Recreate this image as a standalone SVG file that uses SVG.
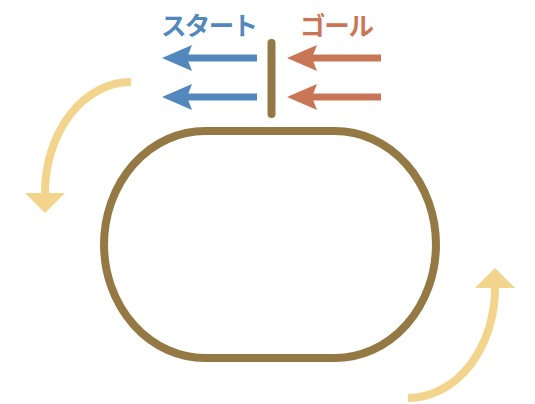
<svg xmlns="http://www.w3.org/2000/svg" width="535" height="404" viewBox="0 0 535 404">
<style>
.lbl{font-family:"Noto Sans CJK JP","Noto Sans",sans-serif;font-weight:bold;font-size:25.5px}
.blue{fill:#5388BC}
.orange{fill:#C97656}
.bshaft{stroke:#5388BC;stroke-width:7;fill:none}
.oshaft{stroke:#C97656;stroke-width:7;fill:none}
.yel{stroke:#F2D48C;stroke-width:8;fill:none}
</style>
<defs>
<path id="head" d="M0,0 L30,-13 L25,0 L30,13 Z"/>
<path id="yhead" d="M-20,0 L20,0 L0,20 Z" fill="#F2D48C"/>
</defs>
<rect width="535" height="404" fill="#fff"/>
<g id="track">
<path d="M205,131 H335 A101,113.5 0 0 1 335,358 H205 A101,113.5 0 0 1 205,131 Z" fill="none" stroke="#957944" stroke-width="8"/>
</g>
<g id="finish-line">
<line x1="271.5" y1="43" x2="271.5" y2="114" stroke="#957944" stroke-width="8" stroke-linecap="round"/>
</g>
<g id="start">
<text class="lbl blue" x="161" y="35" textLength="97" lengthAdjust="spacing">スタート</text>
</g>
<g id="goal">
<text class="lbl orange" x="300" y="35" textLength="74" lengthAdjust="spacing">ゴール</text>
</g>
<g id="connectors">
<line class="bshaft" x1="186" y1="58" x2="257" y2="58"/>
<use href="#head" x="162" y="58" class="blue"/>
<line class="bshaft" x1="186" y1="97" x2="257" y2="97"/>
<use href="#head" x="162" y="97" class="blue"/>
<line class="oshaft" x1="311" y1="58" x2="381" y2="58"/>
<use href="#head" x="287" y="58" class="orange"/>
<line class="oshaft" x1="311" y1="97" x2="381" y2="97"/>
<use href="#head" x="287" y="97" class="orange"/>
<path class="yel" d="M131,82 A86,111 0 0 0 45,194"/>
<use href="#yhead" x="45" y="193"/>
<path class="yel" d="M408,398 A87,110 0 0 0 495,287"/>
<use href="#yhead" transform="translate(495,288) rotate(180)"/>
</g>
</svg>
